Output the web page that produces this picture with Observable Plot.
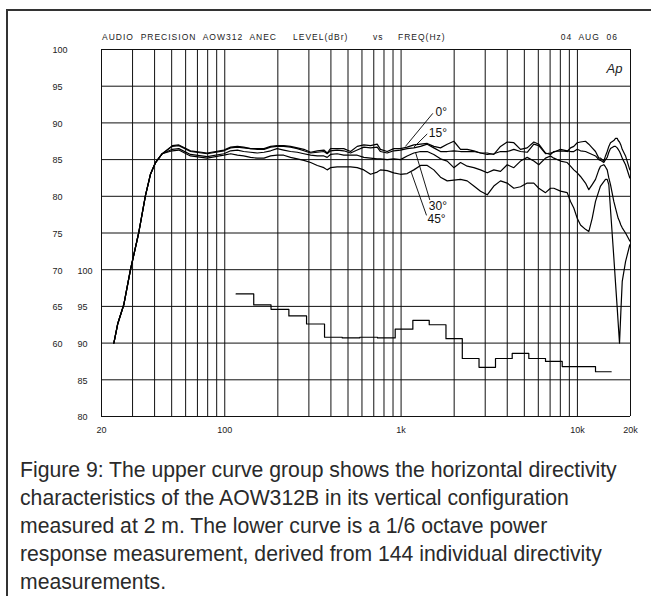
<!DOCTYPE html>
<html>
<head>
<meta charset="utf-8">
<script src="https://cdn.jsdelivr.net/npm/d3@7"></script>
<script src="https://cdn.jsdelivr.net/npm/@observablehq/plot@0.6"></script>
<style>
  html, body { margin: 0; padding: 0; background: #fff; }
  #wrap { position: relative; width: 651px; height: 596px; overflow: hidden;
          font-family: "Liberation Sans", Arial, Helvetica, sans-serif; }
  #frame { position: absolute; left: 6px; top: 9px; width: 700px; height: 700px;
           border: 2px solid #333; box-sizing: border-box; }
  #chart { position: absolute; left: 0; top: 0; }
  .hdr { position: absolute; top: 32px; font-size: 8.5px; line-height: 10px;
         letter-spacing: 1px; color: #222; white-space: pre; }
  #caption { position: absolute; left: 20px; top: 456px; font-size: 21.2px;
             line-height: 28px; color: #2a2a2a; white-space: nowrap; }
</style>
</head>
<body>
<div id="wrap">
  <div id="frame"></div>
  <div id="chart"></div>
  <div class="hdr" style="left:102px">AUDIO  PRECISION  AOW312  ANEC</div>
  <div class="hdr" style="left:293px">LEVEL(dBr)</div>
  <div class="hdr" style="left:373px">vs</div>
  <div class="hdr" style="left:398px">FREQ(Hz)</div>
  <div class="hdr" style="right:33px">04  AUG  06</div>
  <div id="caption">Figure 9: The upper curve group shows the horizontal directivity<br>characteristics of the AOW312B in its vertical configuration<br>measured at 2 m. The lower curve is a 1/6 octave power<br>response measurement, derived from 144 individual directivity<br>measurements.</div>
</div>
<script>
// ---------- data ----------
const freq = [23.5, 24.7, 26.8, 29.2, 32.5, 35.5, 37.9, 40.5, 44.2,
  50.4, 54.9, 63.9, 79.5, 98.8,
  108, 118, 128, 140, 153, 167, 182, 198, 216, 236, 258, 281, 307, 335, 365, 381, 398, 434, 473, 517, 564, 615, 671, 732,
  764, 834, 909, 992, 1083, 1181, 1289, 1407, 1533, 1673, 1826, 1991, 2173, 2371, 2586, 2822, 3080, 3357, 3663, 3997, 4359,
  4757, 5191, 5659, 6040, 6593, 7036, 7348, 8019, 8751, 9139, 9540, 9976, 10411, 11113, 11603, 12126, 12664, 13223, 13520, 14115,
  14430, 14753, 15069, 15404, 16083, 16445, 16813, 17031, 17327, 17630, 17954, 18747, 19821];

const deg0 = [60.0, 62.6, 65.3, 70.0, 75.0, 80.1, 83.0, 84.6, 85.8,
  86.9, 87.0, 86.2, 85.9, 86.3,
  86.7, 86.8, 86.7, 86.5, 86.5, 86.5, 86.8, 86.9, 86.9, 86.8, 86.6, 86.4, 86.0, 86.2, 86.3, 85.9, 86.5, 86.5, 86.5, 86.1, 86.8, 87.0, 86.9, 87.1,
  86.4, 86.1, 86.5, 86.5, 86.7, 87.0, 87.1, 87.2, 86.8, 86.6, 87.1, 87.5, 86.4, 86.4, 86.2, 85.9, 85.9, 85.7, 86.8, 87.4, 87.3,
  86.4, 86.6, 87.4, 87.1, 85.9, 85.7, 86.1, 86.2, 86.1, 86.6, 86.8, 87.3, 87.4, 87.5, 87.1, 86.6, 86.1, 85.2, 85.2, 84.8,
  85.5, 86.1, 86.8, 87.3, 87.6, 87.9, 87.9, 87.6, 87.4, 87.0, 86.4, 85.5, 83.6];

const deg15 = [60.0, 62.6, 65.3, 70.0, 75.0, 80.1, 83.0, 84.6, 85.8,
  86.8, 86.9, 86.1, 85.8, 86.2,
  86.6, 86.7, 86.6, 86.5, 86.4, 86.4, 86.7, 86.8, 86.8, 86.7, 86.5, 86.2, 85.9, 86.0, 86.1, 85.8, 86.2, 86.3, 86.2, 85.9, 86.3, 86.7, 86.6, 86.7,
  86.1, 85.9, 86.2, 86.3, 86.5, 86.6, 86.8, 87.1, 86.6, 86.1, 86.1, 86.2, 86.1, 86.1, 86.1, 85.9, 85.7, 85.8, 86.1, 86.1, 86.4,
  86.1, 86.0, 87.1, 86.9, 85.8, 85.9, 86.0, 86.4, 86.2, 86.1, 86.1, 86.4, 86.2, 86.1, 85.9, 85.7, 85.5, 85.0, 84.9, 84.6,
  85.0, 85.3, 86.0, 86.5, 86.8, 86.8, 86.6, 86.4, 86.1, 85.7, 85.2, 84.3, 82.5];

const deg30 = [60.0, 62.6, 65.3, 70.0, 75.0, 80.1, 83.0, 84.6, 85.8,
  86.4, 86.5, 85.7, 85.4, 85.8,
  86.2, 86.3, 86.1, 86.0, 85.9, 86.0, 86.2, 86.5, 86.3, 86.1, 86.0, 85.8, 85.6, 85.5, 85.5, 85.3, 85.7, 85.8, 85.6, 85.6, 85.6, 85.3, 85.2, 85.1,
  85.1, 85.0, 85.1, 85.0, 85.5, 85.9, 86.1, 86.1, 85.7, 85.1, 84.8, 83.9, 84.6, 84.1, 83.9, 83.6, 83.2, 83.6, 83.4, 84.3, 83.9,
  84.8, 85.3, 84.8, 84.3, 85.2, 85.5, 85.2, 84.8, 84.6, 84.1, 83.6, 83.2, 82.7, 81.8, 80.9, 81.6, 82.3, 83.6, 84.1, 84.3,
  84.0, 83.6, 82.5, 81.6, 79.3, 78.4, 77.5, 77.0, 76.6, 76.1, 75.7, 75.0, 73.9];

const deg45 = [60.0, 62.6, 65.3, 70.0, 75.0, 80.1, 83.0, 84.6, 85.8,
  86.2, 86.3, 85.5, 85.2, 85.6,
  85.8, 85.6, 85.5, 85.3, 85.2, 85.2, 85.5, 85.6, 85.6, 85.3, 85.1, 84.9, 84.6, 84.2, 83.9, 83.6, 83.9, 84.0, 84.0, 84.0, 83.9, 83.6, 83.0, 83.3,
  83.6, 83.5, 83.2, 83.0, 83.1, 83.6, 84.2, 84.2, 83.6, 82.6, 82.1, 82.2, 82.3, 82.1, 81.4, 80.7, 80.2, 81.4, 82.1, 81.8, 81.1,
  81.3, 81.8, 81.8, 81.1, 80.5, 81.1, 81.1, 80.7, 80.5, 79.3, 78.4, 77.0, 76.1, 75.5, 75.2, 77.0, 79.3, 80.7, 81.4, 82.0,
  82.3, 82.3, 81.6, 78.2, 71.7, 68.2, 64.8, 62.7, 60.0, 64.2, 68.4, 71.1, 73.4];

// 1/6-octave power response (read on the inner, right-hand scale 80..100)
const powerEdges = [116, 146, 183, 231, 291, 368, 464, 583, 735, 926, 1166, 1444, 1797, 2224, 2767, 3431, 4267, 5301, 6593, 8200, 10184, 12666, 15548];
const powerLevels = [96.7, 95.2, 94.6, 93.7, 92.6, 90.8, 90.7, 90.8, 90.7, 91.9, 93.1, 92.5, 90.6, 87.9, 86.7, 87.9, 88.6, 87.9, 87.5, 86.8, 86.8, 86.1];
const powerOffset = 30; // inner scale 100 sits on outer 70

// angle labels and their leaders (data coordinates)
const angleNames = ["0°", "15°", "30°", "45°"];
const labelFreq = [1568, 1436, 1436, 1412];
const labelLevel = [91.5, 88.6, 78.7, 76.9];
const leaderFrom = [[1513, 91.3], [1407, 88.5], [1455, 79.5], [1394, 77.4]];
const leaderTo = [[1059, 86.8], [1181, 86.7], [1207, 86.0], [1141, 83.3]];

// axes
const gridFreqs = [20, 30, 40, 50, 60, 70, 80, 90, 100, 200, 300, 400, 500, 600, 700, 800, 900,
  1000, 2000, 3000, 4000, 5000, 6000, 7000, 8000, 9000, 10000, 20000];
const gridLevels = [50, 55, 60, 65, 70, 75, 80, 85, 90, 95, 100];
const outerTicks = [60, 65, 70, 75, 80, 85, 90, 95, 100];
const innerTicks = [80, 85, 90, 95, 100];
const xTickValues = [20, 100, 1000, 10000, 20000];
const xTickLabels = ["20", "100", "1k", "10k", "20k"];

// ---------- build ----------
const series = [deg0, deg15, deg30, deg45];
const curveRows = [];
series.forEach((vals, k) => vals.forEach((v, i) => curveRows.push({f: freq[i], v, angle: angleNames[k]})));

const powerRows = powerLevels.map((lv, i) => ({f: powerEdges[i], v: lv - powerOffset}));
powerRows.push({f: powerEdges[powerEdges.length - 1], v: powerLevels[powerLevels.length - 1] - powerOffset});

const labels = angleNames.map((t, i) => ({t, f: labelFreq[i], v: labelLevel[i]}));
const leaders = angleNames.map((t, i) => ({f1: leaderFrom[i][0], v1: leaderFrom[i][1], f2: leaderTo[i][0], v2: leaderTo[i][1]}));

const ink = "#111";
const chart = Plot.plot({
  width: 651,
  height: 450,
  marginLeft: 101,
  marginRight: 21,
  marginTop: 49,
  marginBottom: 34,
  style: {fontFamily: "'Liberation Sans', Arial, Helvetica, sans-serif", background: "transparent", color: ink},
  x: {type: "log", domain: [20, 20000], axis: null},
  y: {domain: [50, 100], axis: null},
  marks: [
    Plot.ruleX(gridFreqs, {stroke: ink, strokeWidth: 1}),
    Plot.ruleY(gridLevels, {stroke: ink, strokeWidth: 1}),
    Plot.line(curveRows, {x: "f", y: "v", z: "angle", stroke: "#000", strokeWidth: 1.2}),
    Plot.line(powerRows, {x: "f", y: "v", curve: "step-after", stroke: "#000", strokeWidth: 1.2}),
    Plot.link(leaders, {x1: "f1", y1: "v1", x2: "f2", y2: "v2", stroke: "#000", strokeWidth: 0.9}),
    Plot.text(labels, {x: "f", y: "v", text: "t", textAnchor: "start", fontSize: 12, fill: "#111"}),
    Plot.text(outerTicks, {y: d => d, text: d => String(d), frameAnchor: "left", dx: -49, dy: 1, textAnchor: "start", fontSize: 9, fill: "#222"}),
    Plot.text(innerTicks, {y: d => d - powerOffset, text: d => String(d), frameAnchor: "left", dx: -24, dy: 1, textAnchor: "start", fontSize: 9, fill: "#222"}),
    Plot.text(xTickValues, {x: d => d, text: (d, i) => xTickLabels[i], frameAnchor: "bottom", dy: 16, fontSize: 9, fill: "#222"}),
    Plot.text(["Ap"], {frameAnchor: "top-right", dx: -8, dy: 14, textAnchor: "end", fontSize: 13, fontStyle: "italic", fill: "#222"})
  ]
});
document.getElementById("chart").appendChild(chart);
</script>
</body>
</html>
